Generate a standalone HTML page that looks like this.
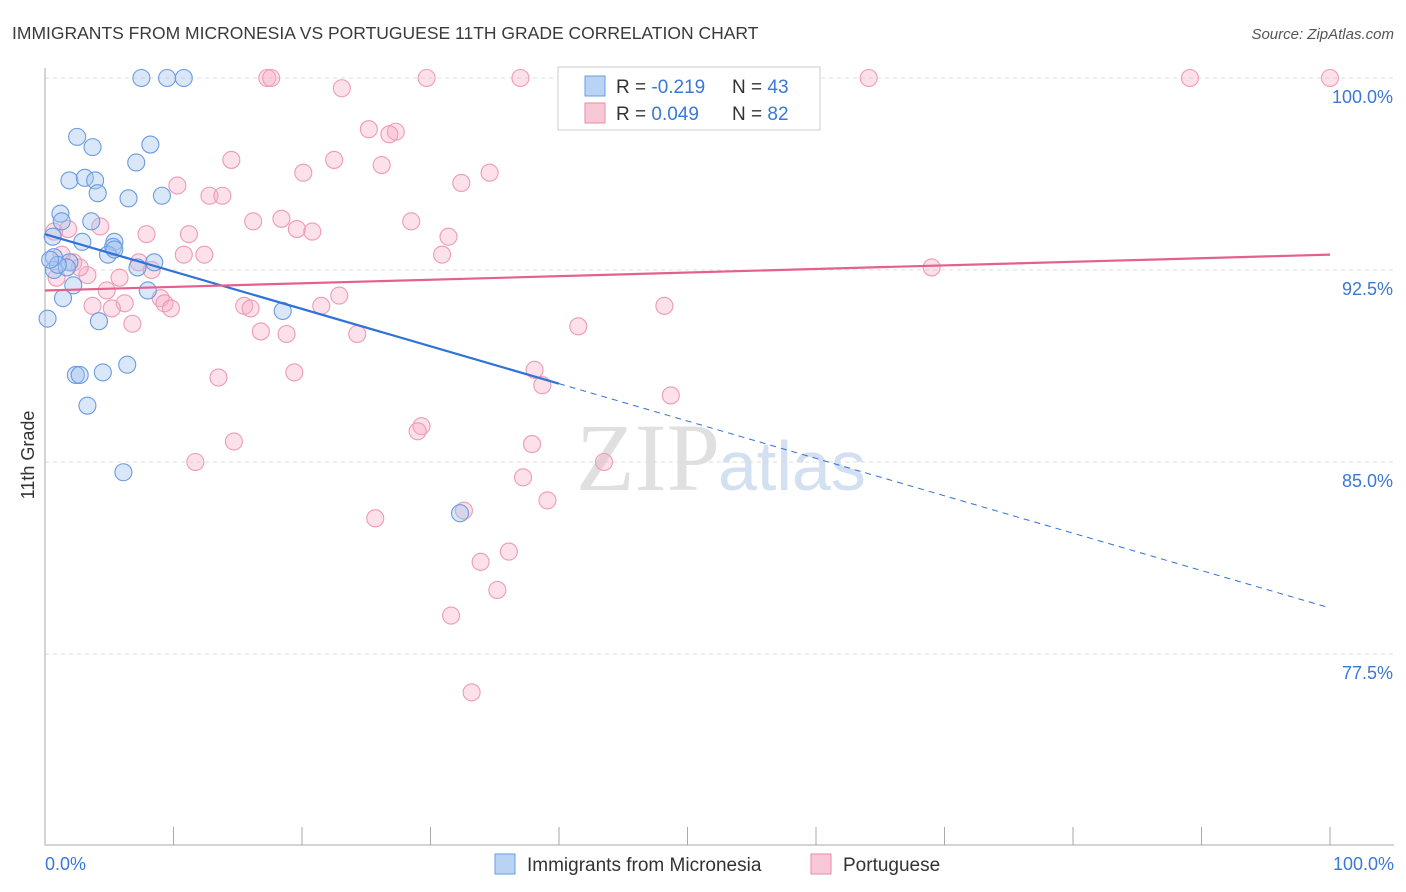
<!DOCTYPE html>
<html><head><meta charset="utf-8"><style>
body{margin:0;background:#fff;font-family:"Liberation Sans",sans-serif;}
svg{display:block}
</style></head><body>
<svg id="chart" width="1406" height="892">
<text x="12" y="39" font-size="17.5" fill="#3a3a3a">IMMIGRANTS FROM MICRONESIA VS PORTUGUESE 11TH GRADE CORRELATION CHART</text>
<text x="1394" y="39" font-size="15" fill="#555" font-style="italic" text-anchor="end">Source: ZipAtlas.com</text>
<text x="720" y="490" font-size="96" fill="#e0e0e0" text-anchor="end" font-family="Liberation Serif,serif">ZIP</text>
<text x="718" y="490" font-size="70" fill="#d3e0f2">atlas</text>
<text transform="translate(34,455) rotate(-90)" font-size="18" fill="#333" text-anchor="middle">11th Grade</text>
<g id="grid"></g><g id="axes"></g><g id="pts"></g><g id="lines"></g>
<g>
<rect x="558" y="67" width="262" height="63" fill="#fff" stroke="#ccc"/>
<rect x="585" y="76" width="20" height="20" fill="#b9d3f5" stroke="#6a9be0"/>
<rect x="585" y="103" width="20" height="20" fill="#f9c8d7" stroke="#e98aa8"/>
<text x="616" y="93" font-size="19" fill="#333">R = <tspan fill="#3a78d8">-0.219</tspan></text>
<text x="732" y="93" font-size="19" fill="#333">N = <tspan fill="#3a78d8">43</tspan></text>
<text x="616" y="120" font-size="19" fill="#333">R = <tspan fill="#3a78d8"> 0.049</tspan></text>
<text x="732" y="120" font-size="19" fill="#333">N = <tspan fill="#3a78d8">82</tspan></text>
</g>
<g>
<rect x="495" y="854" width="20" height="20" fill="#b9d3f5" stroke="#6a9be0"/>
<text x="527" y="871" font-size="19" fill="#333">Immigrants from Micronesia</text>
<rect x="811" y="854" width="20" height="20" fill="#f9c8d7" stroke="#e98aa8"/>
<text x="843" y="871" font-size="19" fill="#333">Portuguese</text>
</g>
</svg>
<script>
const yTicks=[100,92.5,85,77.5];
const yTickLabels=["100.0%","92.5%","85.0%","77.5%"];
const blueX=[7.5,9.5,10.8,2.5,3.7,8.2,7.1,1.9,3.1,3.9,4.1,6.5,9.1,1.2,1.3,3.6,0.6,2.9,5.4,5.3,4.9,0.7,0.7,1.9,1.7,7.2,8.5,2.2,1.4,8.0,0.2,4.2,18.5,6.4,4.5,2.4,2.7,3.3,6.1,32.3,1.0,0.4,5.4];
const blueY=[100,100,100,97.7,97.3,97.4,96.7,96.0,96.1,96.0,95.5,95.3,95.4,94.7,94.4,94.4,93.8,93.6,93.6,93.4,93.1,93.0,92.5,92.8,92.6,92.6,92.8,91.9,91.4,91.7,90.6,90.5,90.9,88.8,88.5,88.4,88.4,87.2,84.6,83.0,92.7,92.9,93.3];
const pinkX=[17.3,17.6,29.7,37.0,45.6,64.1,89.1,100,23.1,25.2,27.3,26.8,14.5,22.5,26.2,20.1,34.6,10.3,32.4,12.8,13.8,16.2,18.4,28.5,19.6,20.8,0.7,1.8,4.3,7.9,11.2,31.4,12.4,10.8,30.9,1.3,2.2,3.3,5.8,8.3,2.7,0.9,4.8,22.9,9.0,9.3,9.8,3.7,6.2,15.5,16.0,21.5,48.2,5.2,6.8,41.5,16.8,18.8,24.3,69.0,19.4,13.5,38.1,38.7,48.7,29.3,29.0,14.7,37.9,11.7,43.5,37.2,39.1,32.6,25.7,36.1,33.9,35.2,31.6,33.2,7.3];
const pinkY=[100,100,100,100,100,100,100,100,99.6,98.0,97.9,97.8,96.8,96.8,96.6,96.3,96.3,95.8,95.9,95.4,95.4,94.4,94.5,94.4,94.1,94.0,94.0,94.1,94.2,93.9,93.9,93.8,93.1,93.1,93.1,93.1,92.8,92.3,92.2,92.5,92.6,92.2,91.7,91.5,91.4,91.2,91.0,91.1,91.2,91.1,91.0,91.1,91.1,91.0,90.4,90.3,90.1,90.0,90.0,92.6,88.5,88.3,88.6,88.0,87.6,86.4,86.2,85.8,85.7,85.0,85.0,84.4,83.5,83.1,82.8,81.5,81.1,80.0,79.0,76.0,92.8];
const blueTrend=[93.9,79.3], pinkTrend=[91.7,93.1];
const NS='http://www.w3.org/2000/svg';
const X=v=>45+v*12.85, Y=v=>78+(100-v)*25.6;
function mk(g,t,a){const e=document.createElementNS(NS,t);for(const k in a)e.setAttribute(k,a[k]);document.getElementById(g).appendChild(e);return e;}
yTicks.forEach((t,i)=>{
 const l=mk('grid','line',{x1:45,x2:1394,y1:Y(t),y2:Y(t),stroke:'#ddd','stroke-dasharray':'4,4'});
 
 
 const tx=mk('grid','text',{x:1393,y:Y(t)+25,'font-size':18,fill:'#3a78d8','text-anchor':'end'});
 tx.textContent=yTickLabels[i];
 
 
});
mk('axes','line',{x1:45,x2:45,y1:68,y2:845,stroke:'#aaa'});
mk('axes','line',{x1:45,x2:1394,y1:845,y2:845,stroke:'#aaa'});
for(let i=0;i<=10;i++){mk('axes','line',{x1:X(i*10),x2:X(i*10),y1:827,y2:845,stroke:'#aaa'});}
let t0=mk('axes','text',{x:45,y:870,'font-size':18,fill:'#3a78d8'});t0.textContent='0.0%';


let t1=mk('axes','text',{x:1394,y:870,'font-size':18,fill:'#3a78d8','text-anchor':'end'});t1.textContent='100.0%';


pinkX.forEach((x,i)=>{const c=mk('pts','circle',{cx:X(x),cy:Y(pinkY[i]),r:8.5,fill:'rgba(246,170,195,0.35)',stroke:'#ee9ab6','stroke-width':1.1});
 
 });
blueX.forEach((x,i)=>{const c=mk('pts','circle',{cx:X(x),cy:Y(blueY[i]),r:8.5,fill:'rgba(160,195,240,0.4)',stroke:'#6b9be0','stroke-width':1.1});
 
 });
const bAt=v=>blueTrend[0]+(blueTrend[1]-blueTrend[0])*v/100;
let bl=mk('lines','line',{x1:X(0),y1:Y(bAt(0)),x2:X(40),y2:Y(bAt(40)),stroke:'#2f72d8','stroke-width':2.2});


let bd=mk('lines','line',{x1:X(40),y1:Y(bAt(40)),x2:X(100),y2:Y(bAt(100)),stroke:'#2f72d8','stroke-width':1,'stroke-dasharray':'6,5'});


let pl=mk('lines','line',{x1:X(0),y1:Y(pinkTrend[0]),x2:X(100),y2:Y(pinkTrend[1]),stroke:'#e5608b','stroke-width':2.2});


</script>
</body></html>
